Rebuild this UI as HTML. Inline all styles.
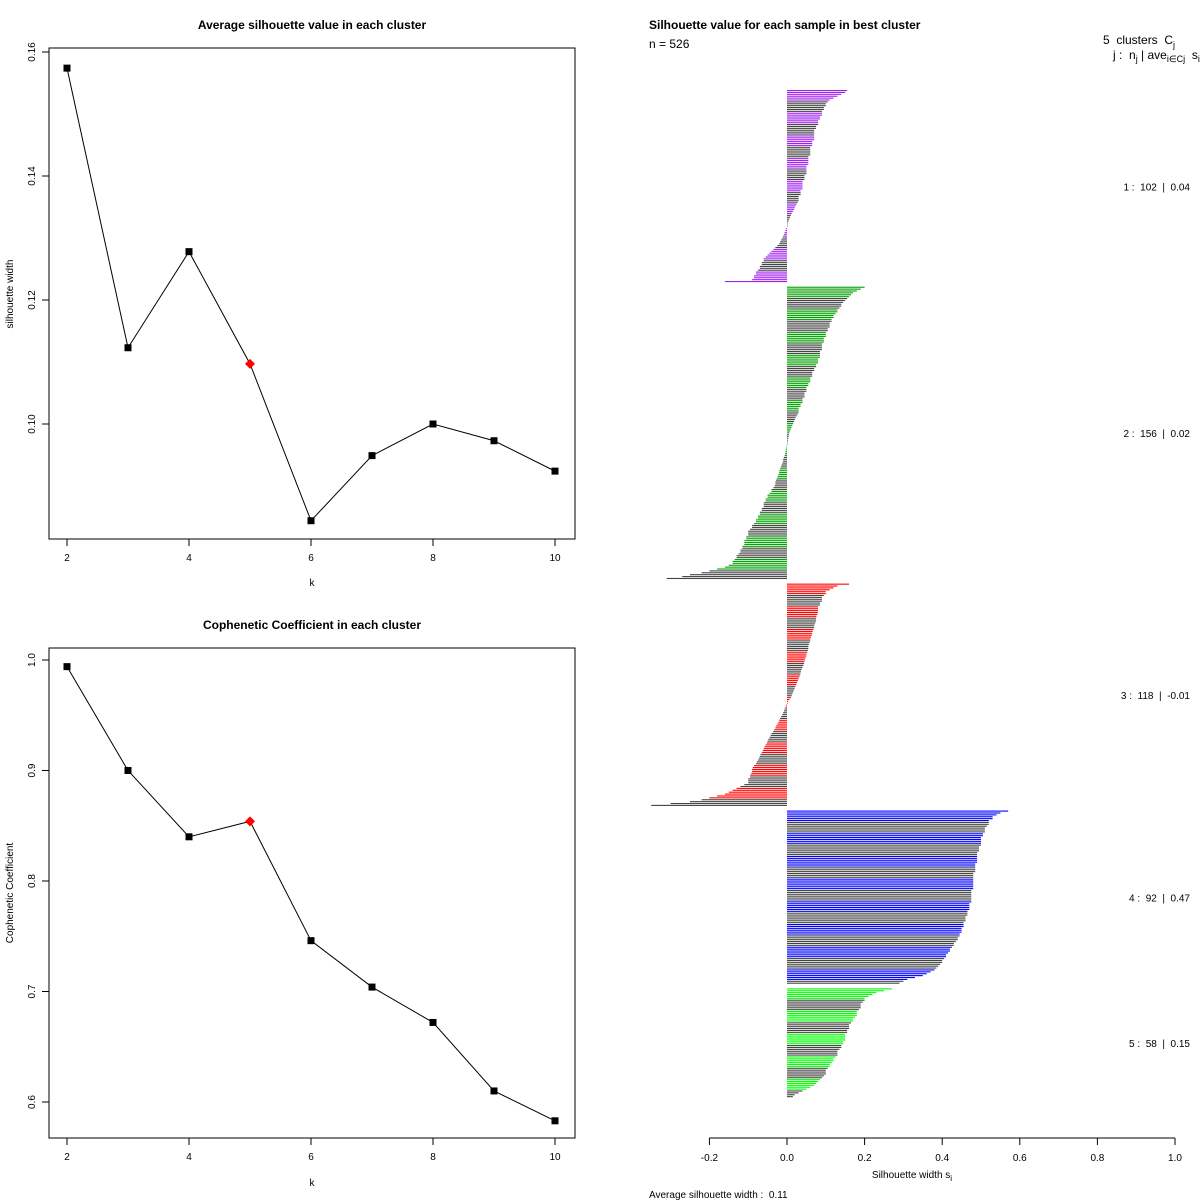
<!DOCTYPE html>
<html><head><meta charset="utf-8"><style>
html,body{margin:0;padding:0;background:#fff;}
svg{display:block;font-family:"Liberation Sans",sans-serif;}
text{white-space:pre;}
</style></head><body>
<svg id="s" width="1200" height="1200" viewBox="0 0 1200 1200">
<text x="312" y="29" font-size="12" font-weight="bold" text-anchor="middle">Average silhouette value in each cluster</text>
<text x="312" y="629" font-size="12" font-weight="bold" text-anchor="middle">Cophenetic Coefficient in each cluster</text>
<rect x="49" y="48" width="526" height="491" fill="none" stroke="#000"/>
<rect x="49" y="648" width="526" height="490" fill="none" stroke="#000"/>
<text x="312" y="586" font-size="10" text-anchor="middle">k</text>
<text x="312" y="1186" font-size="10" text-anchor="middle">k</text>
<text transform="translate(13,294) rotate(-90)" font-size="10" text-anchor="middle">silhouette width</text>
<text transform="translate(13,893) rotate(-90)" font-size="10" text-anchor="middle">Cophenetic Coefficient</text>
<text x="649" y="29" font-size="12" font-weight="bold">Silhouette value for each sample in best cluster</text>
<text x="649" y="48" font-size="12">n = 526</text>
<text x="1103" y="44" font-size="12">5  clusters  C<tspan font-size="9" dy="4">j</tspan></text>
<text x="1113" y="59" font-size="12">j :  n<tspan font-size="9" dy="3">j</tspan><tspan dy="-3"> | ave</tspan><tspan font-size="9" dy="3">i∈Cj</tspan><tspan dy="-3">  s</tspan><tspan font-size="9" dy="3">i</tspan></text>
<text x="912" y="1178" font-size="10" text-anchor="middle">Silhouette width s<tspan font-size="8" dy="3">i</tspan></text>
<text x="649" y="1198" font-size="10">Average silhouette width :  0.11</text>
<g id="L"></g><g id="R"></g>
</svg>
<script>
const ks=[2,3,4,5,6,7,8,9,10];
const silVals=[0.1574,0.1123,0.1278,0.1097,0.0844,0.0949,0.1000,0.0973,0.0924];
const cophVals=[0.994,0.900,0.840,0.854,0.746,0.704,0.672,0.610,0.583];
const bestK=5;
const silTicks=[0.10,0.12,0.14,0.16];
const cophTicks=[0.6,0.7,0.8,0.9,1.0];
const kTicks=[2,4,6,8,10];
const c1=[0.155,0.15,0.14,0.13,0.12,0.11,0.105,0.1,0.1,0.095,0.095,0.09,0.09,0.09,0.085,0.085,0.08,0.08,0.08,0.075,0.075,0.07,0.07,0.07,0.07,0.07,0.07,0.065,0.065,0.065,0.06,0.06,0.06,0.06,0.06,0.055,0.055,0.055,0.055,0.055,0.05,0.05,0.05,0.05,0.05,0.045,0.045,0.045,0.04,0.04,0.04,0.04,0.04,0.035,0.035,0.035,0.03,0.03,0.03,0.028,0.025,0.022,0.02,0.018,0.015,0.012,0.01,0.008,0.006,0.004,0.002,0.001,0.001,-0.002,-0.004,-0.006,-0.008,-0.01,-0.012,-0.015,-0.018,-0.02,-0.025,-0.03,-0.035,-0.04,-0.045,-0.05,-0.055,-0.06,-0.06,-0.065,-0.065,-0.07,-0.07,-0.075,-0.08,-0.08,-0.085,-0.085,-0.09,-0.16];
const c2=[0.2,0.19,0.18,0.17,0.165,0.16,0.155,0.15,0.145,0.14,0.14,0.135,0.13,0.13,0.125,0.12,0.12,0.115,0.115,0.11,0.11,0.11,0.105,0.105,0.1,0.1,0.1,0.095,0.095,0.095,0.09,0.09,0.09,0.09,0.085,0.085,0.085,0.085,0.08,0.08,0.08,0.075,0.075,0.07,0.07,0.065,0.065,0.065,0.06,0.06,0.06,0.055,0.055,0.05,0.05,0.05,0.045,0.045,0.045,0.04,0.04,0.04,0.035,0.035,0.03,0.03,0.03,0.028,0.025,0.022,0.02,0.018,0.016,0.014,0.012,0.01,0.008,0.006,0.005,0.004,0.003,0.002,0.001,0.001,-0.001,-0.002,-0.003,-0.004,-0.005,-0.006,-0.008,-0.01,-0.01,-0.012,-0.014,-0.016,-0.018,-0.02,-0.02,-0.022,-0.024,-0.026,-0.028,-0.03,-0.03,-0.032,-0.035,-0.04,-0.04,-0.045,-0.05,-0.05,-0.055,-0.055,-0.06,-0.06,-0.06,-0.065,-0.065,-0.07,-0.07,-0.075,-0.075,-0.08,-0.08,-0.085,-0.09,-0.09,-0.095,-0.1,-0.1,-0.1,-0.105,-0.105,-0.11,-0.11,-0.11,-0.115,-0.115,-0.12,-0.12,-0.125,-0.13,-0.13,-0.135,-0.14,-0.14,-0.15,-0.16,-0.18,-0.2,-0.22,-0.25,-0.27,-0.31];
const c3=[0.16,0.13,0.12,0.11,0.1,0.1,0.095,0.09,0.09,0.09,0.085,0.085,0.08,0.08,0.08,0.08,0.078,0.076,0.075,0.075,0.074,0.072,0.07,0.07,0.068,0.066,0.065,0.064,0.062,0.06,0.06,0.058,0.056,0.055,0.055,0.054,0.052,0.05,0.05,0.048,0.046,0.045,0.044,0.042,0.04,0.038,0.036,0.035,0.034,0.032,0.03,0.028,0.026,0.024,0.022,0.02,0.018,0.016,0.014,0.012,0.01,0.006,0.003,0.001,-0.002,-0.004,-0.006,-0.008,-0.01,-0.012,-0.015,-0.018,-0.02,-0.022,-0.025,-0.028,-0.03,-0.033,-0.036,-0.04,-0.042,-0.045,-0.048,-0.05,-0.052,-0.055,-0.058,-0.06,-0.062,-0.065,-0.068,-0.07,-0.072,-0.075,-0.078,-0.08,-0.085,-0.088,-0.09,-0.09,-0.092,-0.095,-0.095,-0.1,-0.1,-0.1,-0.11,-0.12,-0.13,-0.14,-0.15,-0.16,-0.18,-0.2,-0.22,-0.25,-0.3,-0.35];
const c4=[0.57,0.55,0.54,0.53,0.53,0.52,0.52,0.52,0.515,0.51,0.51,0.51,0.505,0.505,0.5,0.5,0.5,0.5,0.5,0.495,0.495,0.495,0.49,0.49,0.49,0.49,0.49,0.49,0.485,0.485,0.485,0.485,0.485,0.48,0.48,0.48,0.48,0.48,0.48,0.48,0.48,0.48,0.475,0.475,0.475,0.475,0.475,0.475,0.475,0.47,0.47,0.47,0.47,0.465,0.465,0.465,0.46,0.46,0.46,0.455,0.455,0.455,0.45,0.45,0.45,0.445,0.445,0.44,0.44,0.435,0.43,0.43,0.425,0.42,0.42,0.415,0.41,0.41,0.405,0.4,0.4,0.395,0.39,0.385,0.38,0.37,0.36,0.35,0.33,0.31,0.3,0.29];
const c5=[0.27,0.25,0.23,0.22,0.21,0.2,0.2,0.195,0.19,0.19,0.19,0.185,0.18,0.18,0.18,0.175,0.17,0.17,0.165,0.16,0.16,0.16,0.155,0.155,0.15,0.15,0.15,0.15,0.145,0.145,0.14,0.14,0.135,0.13,0.13,0.13,0.125,0.12,0.12,0.115,0.11,0.11,0.105,0.1,0.1,0.1,0.095,0.09,0.085,0.08,0.075,0.07,0.06,0.05,0.04,0.03,0.02,0.015];
const clusterColors=["#a020f0","#00a000","#ff0000","#0000ff","#00ff00"];
const clusterLabels=["1 :  102  |  0.04","2 :  156  |  0.02","3 :  118  |  -0.01","4 :  92  |  0.47","5 :  58  |  0.15"];
const silXTicks=[-0.2,0,0.2,0.4,0.6,0.8,1.0];
const NS="http://www.w3.org/2000/svg";
function mk(p,t,a){const e=document.createElementNS(NS,t);for(const k in a)e.setAttribute(k,a[k]);p.appendChild(e);return e;}
const L=document.getElementById('L'),R=document.getElementById('R');
const xk=k=>67+(k-2)*61;
function panel(vals,ticks,y0,yTop,vTop,scale,fmt,pre){
  const y=v=>yTop+(vTop-v)*scale;
  const ax=y0+491;
  const xa=mk(L,'line',{x1:xk(2),x2:xk(10),y1:ax,y2:ax,stroke:'#000'});
  
  
  kTicks.forEach(k=>{mk(L,'line',{x1:xk(k),x2:xk(k),y1:ax,y2:ax+7,stroke:'#000'});
    const t=mk(L,'text',{x:xk(k),y:ax+22,'font-size':10,'text-anchor':'middle'});t.textContent=k;
    
    });
  mk(L,'line',{x1:49,x2:49,y1:y(ticks[0]),y2:y(ticks[ticks.length-1]),stroke:'#000'});
  ticks.forEach(v=>{mk(L,'line',{x1:42,x2:49,y1:y(v),y2:y(v),stroke:'#000'});
    const t=mk(L,'text',{transform:`translate(35,${y(v)}) rotate(-90)`,'font-size':10,'text-anchor':'middle'});t.textContent=fmt(v);
    
    });
  const pl=mk(L,'polyline',{points:ks.map((k,i)=>xk(k)+','+y(vals[i])).join(' '),fill:'none',stroke:'#000','stroke-width':1});
  
  
  ks.forEach((k,i)=>{let m;
    if(k===bestK){const cx=xk(k),cy=y(vals[i]);m=mk(L,'polygon',{points:`${cx},${cy-5} ${cx+5},${cy} ${cx},${cy+5} ${cx-5},${cy}`,fill:'#ff0000'});}
    else m=mk(L,'rect',{x:xk(k)-3.5,y:y(vals[i])-3.5,width:7,height:7,fill:'#000'});
    
    });
}
panel(silVals,silTicks,48,52,0.16,6200,v=>v.toFixed(2),'silhouette');
panel(cophVals,cophTicks,647,660,1.0,1105,v=>v.toFixed(1),'cophenetic');
const sx=v=>787+v*388;
const clusters=[c1,c2,c3,c4,c5];
const total=clusters.reduce((a,c)=>a+c.length,0)+2*(clusters.length-1);
const step=(1098-90)/total;
let row=0;
clusters.forEach((c,ci)=>{
  const start=row;
  c.forEach((v,i)=>{
    const yy=90+row*step;
    const col=(Math.floor(i/6)%2===0)?clusterColors[ci]:'#444';
    const x1=v>=0?sx(0):sx(v),w=Math.abs(sx(v)-sx(0));
    const b=mk(R,'rect',{x:x1,y:yy,width:Math.max(w,0.5),height:1.1,fill:col});
    
    
    row++;
  });
  const mid=90+(start+c.length/2)*step;
  const t=mk(R,'text',{x:1190,y:mid+4,'font-size':10,'text-anchor':'end'});t.textContent=clusterLabels[ci];
  
  
  row+=2;
});
const xa=mk(R,'line',{x1:sx(-0.2),x2:sx(1),y1:1138,y2:1138,stroke:'#000'});


silXTicks.forEach(v=>{mk(R,'line',{x1:sx(v),x2:sx(v),y1:1138,y2:1145,stroke:'#000'});
  const t=mk(R,'text',{x:sx(v),y:1161,'font-size':10,'text-anchor':'middle'});t.textContent=v.toFixed(1);
  
  });
</script>
</body></html>
